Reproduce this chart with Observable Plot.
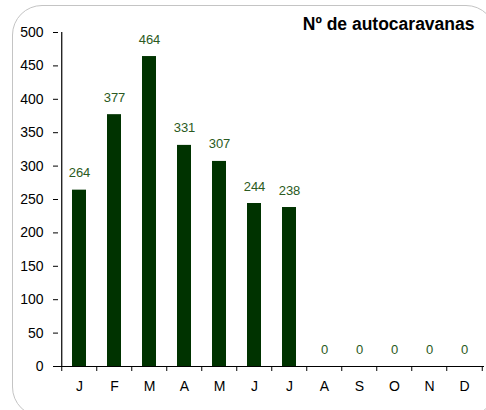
<!DOCTYPE html>
<html>
<head>
<meta charset="utf-8">
<script src="https://cdn.jsdelivr.net/npm/d3@7"></script>
<script src="https://cdn.jsdelivr.net/npm/@observablehq/plot@0.6"></script>
<style>
  html, body { margin: 0; padding: 0; background: #fff; }
  #wrap { position: relative; width: 486px; height: 410px; overflow: hidden; }
  #box { position: absolute; left: 12px; top: 5px; width: 484px; height: 412px;
         border: 1px solid #c4c4c4; border-radius: 30px; box-sizing: border-box; }
  #chart { position: absolute; left: 0; top: 0; }
</style>
</head>
<body>
<div id="wrap"><div id="box"></div><div id="chart"></div></div>
<script>
const months = ["J","F","M","A","M ","J ","J  ","A ","S","O","N","D"];
const monthLabels = ["J","F","M","A","M","J","J","A","S","O","N","D"];
const values = [264, 377, 464, 331, 307, 244, 238, 0, 0, 0, 0, 0];
const yTicks = [0, 50, 100, 150, 200, 250, 300, 350, 400, 450, 500];
const title = "Nº de autocaravanas";

const data = months.map((m, i) => ({month: m, label: monthLabels[i], value: values[i]}));
const labelOf = new Map(data.map(d => [d.month, d.label]));

const barColor = "#003300";
const labelColor = "#2b5a22";
const step = (486 - 58 - 2) / months.length;

const chart = Plot.plot({
  width: 486,
  height: 410,
  marginLeft: 58,
  marginRight: 2,
  marginTop: 32,
  marginBottom: 44,
  style: {fontFamily: "'Liberation Sans', Arial, sans-serif", background: "transparent", color: "#000"},
  x: {domain: months, paddingInner: 0.6, paddingOuter: 0.3, axis: null, label: null},
  y: {domain: [0, 500], axis: null, label: null},
  marks: [
    Plot.barY(data, {x: "month", y: "value", fill: barColor}),
    Plot.text(data, {x: "month", y: "value", text: d => String(d.value), fill: labelColor,
      fontSize: 13, lineAnchor: "bottom", dy: -13}),
    Plot.axisY({ticks: yTicks, tickSize: 5, tickPadding: 10, fontSize: 14, tickFormat: d => d, stroke: "#000", label: null}),
    Plot.axisX({tickSize: 0, tickPadding: 15, fontSize: 14, tickFormat: d => labelOf.get(d), label: null}),
    Plot.ruleY([0], {stroke: "#000", strokeWidth: 1.2}),
    Plot.ruleX([months[0]], {dx: -step / 2, y1: 0, y2: 500, stroke: "#000", strokeWidth: 1.2}),
    Plot.ruleX(months, {x: d => d, dx: -step / 2, y1: 0, y2: 0, insetBottom: -5, stroke: "#000"}),
    Plot.ruleX([months[months.length - 1]], {dx: step / 2, y1: 0, y2: 0, insetBottom: -5, stroke: "#000"}),
    Plot.text([title], {frameAnchor: "top-right", text: d => d, dx: -10, dy: -8,
      fontSize: 17.5, fontWeight: "bold", lineAnchor: "middle", fill: "#000"})
  ]
});
document.getElementById("chart").appendChild(chart);
</script>
</body>
</html>
